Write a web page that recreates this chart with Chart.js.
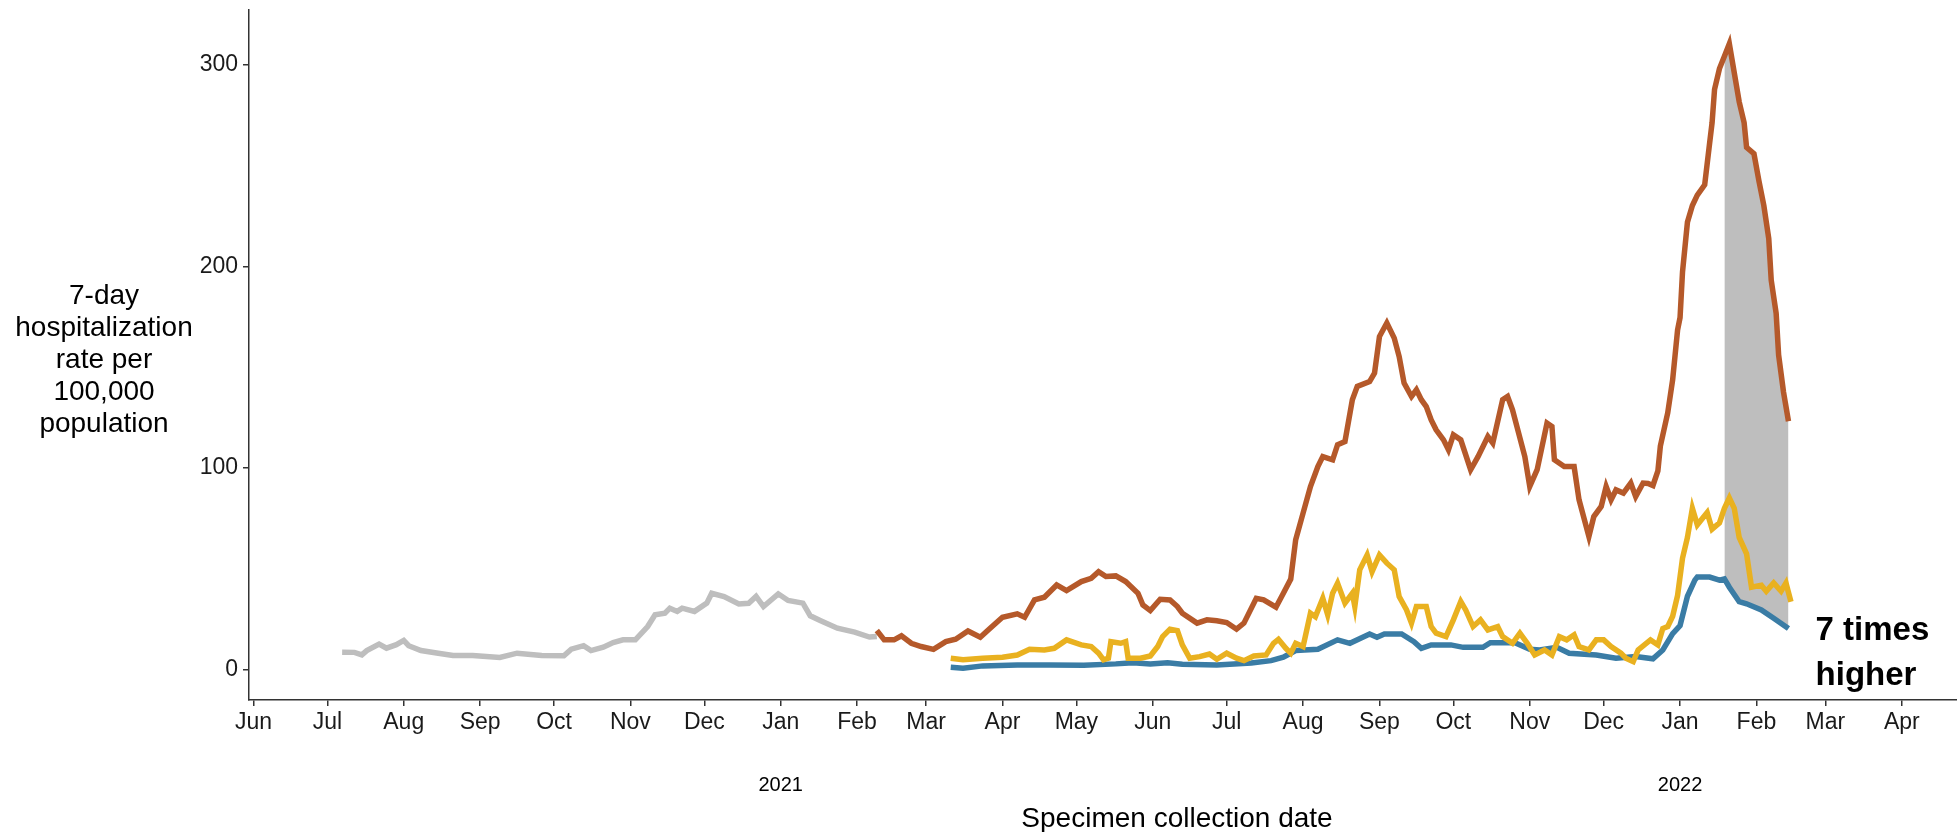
<!DOCTYPE html>
<html>
<head>
<meta charset="utf-8">
<script src="https://cdn.jsdelivr.net/npm/chart.js@4.4.1/dist/chart.umd.min.js"></script>
<style>
  html, body { margin: 0; padding: 0; background: #fff; }
  #wrap { width: 1957px; height: 832px; position: relative; }
</style>
</head>
<body>
<div id="wrap"><canvas id="chart"></canvas></div>
<script>
// days are counted from 1 June 2020
const monthLabels = ['Jun', 'Jul', 'Aug', 'Sep', 'Oct', 'Nov', 'Dec', 'Jan', 'Feb', 'Mar', 'Apr', 'May',
                     'Jun', 'Jul', 'Aug', 'Sep', 'Oct', 'Nov', 'Dec', 'Jan', 'Feb', 'Mar', 'Apr'];
const yearLabels = ['2021', '2022'];
const yTicks = [0, 100, 200, 300];
const yTitleLines = ['7-day', 'hospitalization', 'rate per', '100,000', 'population'];

const greyDays = [36,41,44,46,51,54,58,61,63,68,75,81,89,100,107,117,126,129,134,137,142,146,150,155,160,163,167,169,172,174,179,184,186,191,197,201,204,207,213,217,223,226,230,237,244,250,253];
const greyRate = [8.8,8.7,7.5,9.6,12.8,10.8,12.5,14.6,12,9.6,8.3,7.2,7.2,6.2,8.3,7.2,7,10.3,12,9.6,11.3,13.6,14.9,14.9,21.5,27.3,28.1,30.6,29,30.6,29,33.1,38,36.4,32.7,33,36.4,31.4,37.7,34.4,33.1,26.8,24.5,20.7,18.7,16.3,16.6];

const brownDays = [253,256,260,263,267,271,276,281,285,290, 295,299,304,310,313,317,321,326,330,336,
  340,343,346,350,354,359,361,364,368,372, 375,377,383,387,391,395,399,402,407,410,
  415,418,421,423,426,429,432,434,438,440, 443,446,448,453,455,457,460,463,465,467,
  470,472,474,476,478,480,483,485,487,490, 494,497,501,503,507,509,511,516,518,521,
  525,527,528,532,536,538,542,544,547,549, 551,553,556,559,561,564,566,568,570,571,
  574,576,578,579,580,582,584,586,589,591, 592,593,595,597,599,601,603,605,606,609,
  611,613,615,616,618,619,621,623];
const brownRate = [19.5,14.9,14.9,16.9,13.2,11.6,10.2,14,15.2,19.3, 16.2,20.7,26.1,27.8,26.1,34.7,36,42.1,39.3,43.8,
  45.4,48.7,46.3,46.6,43.8,38,32.2,29.4,35,34.7, 31.4,28.1,23.2,24.8,24.4,23.5,20.2,23.2,35.5,34.7,
  31.1,38,45,64.5,77.7,90.9,100.8,105.7,104.1,111.6, 113.2,133.9,140.5,142.9,147.1,165.2,171.9,164.4,155.3,142.1,
  135.5,138.8,133.9,130.5,123.9,119,114,109.1,116.5,114, 99.2,105.7,115.7,112.4,133.9,135.5,128.9,105.7,90.9,99.2,
  122.3,120.6,104.1,100.8,100.8,84.3,66.1,76,81,90.9, 84.3,89.2,87.6,92.6,85.9,92.6,92.4,91.4,98.6,110.9,
  127.4,143.8,168.5,174.6,197.2,221.9,230.1,235.3,240.4,261, 271.2,287.7,298,304.1,310.3,295.9,281.5,271.2,258.9,255.8,
  242.4,230.1,213.7,193.1,176.7,156.1,137.6,123.2];

const blueDays = [283,288,296,310,323,337,350,357,364,371, 377,391,405,413,418,423,432,440,445,453,
  456,459,466,471,474,478,486,491,499,502, 512,518,522,529,534,545,553,561,568,572,
  576,579,582,585,586,591,595,597,599,603, 606,612,617,623];
const blueRate = [1.3,0.8,2,2.5,2.5,2.3,3,3.6,3,3.6, 2.8,2.5,3.4,4.6,6.3,9.6,10.2,14.9,13.2,17.8,
  16.2,17.8,17.8,14,10.7,12.4,12.4,11.2,11.2,13.5, 13.5,10.2,9.9,11.2,8.3,7.4,5.8,6.6,5.5,9.9,
  18,22,36.5,44.5,46,46,44.5,45.1,41,33.8, 32.8,29.7,25.6,20.5];

const yellowDays = [283,288,296,304,310,315,321,325,330,336, 340,343,345,347,348,352,354,355,360,364,
  367,369,372,375,377,380,384,388,391,395, 399,402,406,411,414,416,419,421,423,426,
  429,431,434,436,438,440,443,446,447,449, 452,454,457,460,463,465,468,470,472,476,
  478,480,484,487,490,492,495,498,501,505, 507,511,514,517,520,524,527,530,533,536,
  538,542,545,548,551,555,557,560,562,567, 570,572,574,576,578,580,582,584,586,590,
  592,595,597,599,601,603,606,608,612,614, 617,620,622,624];
const yellowRate = [5.8,5,5.8,6.3,7.4,10.2,9.9,10.7,14.9,12.4, 11.6,8.3,5,5.8,14,13.2,14,5.8,5.8,6.9,
  11.6,16.5,20.2,19.5,12.4,5.8,6.6,7.9,5.3,8.3, 5.8,4.6,6.9,7.4,13.2,15.2,10.7,8.3,13.2,11.6,
  28.1,26.4,35.5,27.3,38,43,33.1,38,31.4,49.6, 57,48.7,57,52.9,49.6,36.3,29.7,23.2,31.4,31.4,
  21.5,18.2,16.5,24.8,33.9,29.7,21.5,24.8,19.8,21.5, 16.5,13.2,18.2,13.2,7.4,9.9,7.4,16.5,14.9,17.4,
  11.6,9.9,14.9,14.9,11.6,8.3,5.8,4.1,9.9,14.9, 12.4,20.5,21.5,26.6,36.9,55.4,65.7,80.1,71.9,78,
  69.8,72.9,80.1,85.2,80.1,65.7,57.5,41,42,39, 43.1,39,43.1,33.8];

// gap shaded between the two lines
const shadeStart = 597;
const shadeEnd = 623;

const FONT = '"Liberation Sans", Arial, sans-serif';
Chart.defaults.font.family = FONT;

const dayOf = (y, m) => (Date.UTC(y, m, 1) - Date.UTC(2020, 5, 1)) / 864e5;
const monthDays = monthLabels.map((_, i) => dayOf(2020, 5 + i));
const yearDays = yearLabels.map(y => dayOf(+y, 0));

function pts(days, vals) {
    return days.map((d, i) => ({ x: d, y: vals[i] }));
}
function inShade(days, vals) {
    return pts(days, vals).filter(p => p.x >= shadeStart && p.x <= shadeEnd);
}

function line(data, color) {
    return {
        data: data,
        borderColor: color,
        borderWidth: 5.5,
        pointRadius: 0,
        tension: 0,
        fill: false
    };
}

const textPlugin = {
    id: 'textPlugin',
    afterDraw(chart) {
        const ctx = chart.ctx;
        const x = chart.scales.x;
        const y = chart.scales.y;
        ctx.save();
        ctx.fillStyle = '#000';
        ctx.textAlign = 'center';
        ctx.textBaseline = 'alphabetic';

        ctx.font = '28px ' + FONT;
        yTitleLines.forEach((s, i) => ctx.fillText(s, 104, 304 + i * 32));
        ctx.fillText('Specimen collection date', 1177, 827);

        ctx.font = '20px ' + FONT;
        yearLabels.forEach((s, i) => ctx.fillText(s, x.getPixelForValue(yearDays[i]), 791));

        ctx.font = 'bold 33px ' + FONT;
        ctx.textAlign = 'left';
        ctx.fillText('7 times', x.getPixelForValue(634), y.getPixelForValue(15));
        ctx.fillText('higher', x.getPixelForValue(634), y.getPixelForValue(-7.4));
        ctx.restore();
    }
};

new Chart(document.getElementById('chart'), {
    type: 'line',
    data: {
        datasets: [
            line(pts(yellowDays, yellowRate), '#E9B120'),
            line(pts(blueDays, blueRate), '#3A7CA5'),
            line(pts(brownDays, brownRate), '#B5592A'),
            line(pts(greyDays, greyRate), '#BEBEBE'),
            { data: inShade(brownDays, brownRate), borderWidth: 0, pointRadius: 0, fill: '+1', backgroundColor: '#BEBEBE' },
            { data: inShade(blueDays, blueRate), borderWidth: 0, pointRadius: 0, fill: false }
        ]
    },
    options: {
        responsive: true,
        maintainAspectRatio: false,
        animation: false,
        layout: { padding: { left: 190, top: 10, right: 0, bottom: 0 } },
        plugins: {
            legend: { display: false },
            tooltip: { enabled: false }
        },
        scales: {
            x: {
                type: 'linear',
                min: -1.8,
                max: 691.4,
                afterBuildTicks: scale => { scale.ticks = monthDays.map(v => ({ value: v })); },
                afterFit: scale => {
                    scale.height = 132;
                    scale.paddingLeft = 0;
                    scale.paddingRight = 0;
                },
                ticks: {
                    autoSkip: false,
                    maxRotation: 0,
                    padding: 3,
                    color: '#1a1a1a',
                    font: { size: 23 },
                    callback: (v, i) => monthLabels[i]
                },
                grid: { drawOnChartArea: false, drawTicks: true, tickLength: 6, color: '#333', lineWidth: 1.5 },
                border: { display: true, color: '#333', width: 1.5 }
            },
            y: {
                min: -14.9,
                max: 327,
                afterBuildTicks: scale => { scale.ticks = yTicks.map(v => ({ value: v })); },
                afterFit: scale => {
                    scale.width = 59;
                    scale.paddingTop = 0;
                    scale.paddingBottom = 0;
                },
                ticks: {
                    padding: 5,
                    color: '#1a1a1a',
                    font: { size: 23 }
                },
                grid: { drawOnChartArea: false, drawTicks: true, tickLength: 6, color: '#333', lineWidth: 1.5 },
                border: { display: true, color: '#333', width: 1.5 }
            }
        }
    },
    plugins: [textPlugin]
});
</script>
</body>
</html>
